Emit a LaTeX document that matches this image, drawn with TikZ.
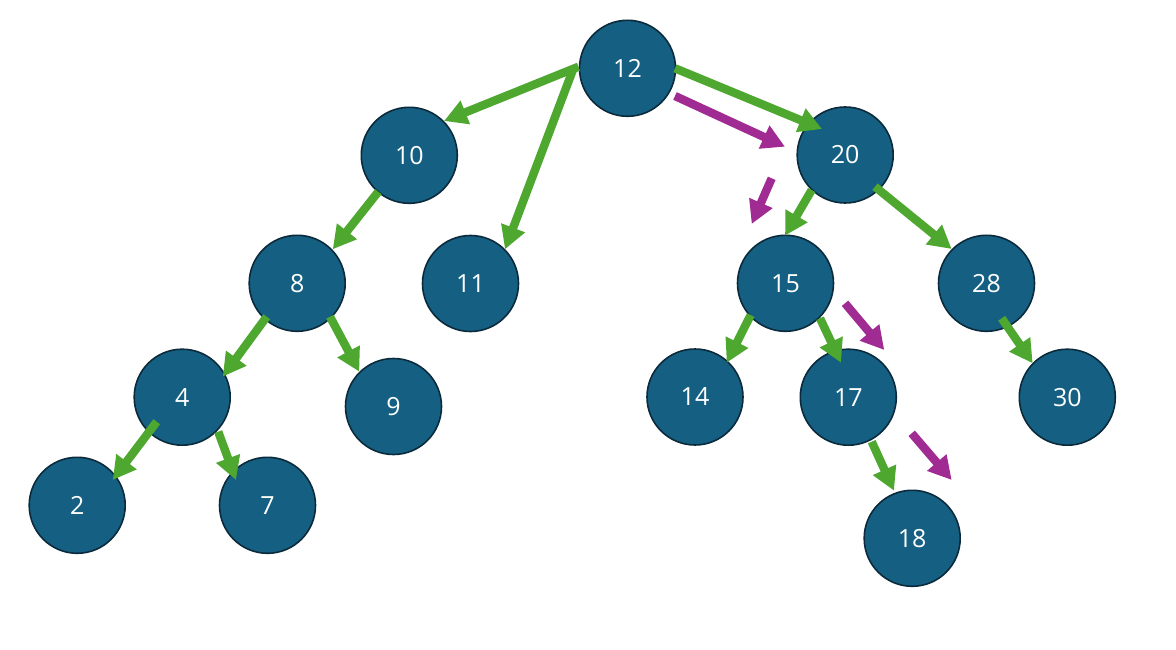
\documentclass[tikz,border=0pt]{standalone}
\usepackage{fontspec}
\setmainfont{Open Sans}
\usetikzlibrary{arrows.meta}
\definecolor{nodefill}{HTML}{156082}
\definecolor{nodeedge}{HTML}{0B2A3C}
\definecolor{edgegreen}{HTML}{4EA72E}
\definecolor{pathmag}{HTML}{A02B93}
\begin{document}
\begin{tikzpicture}[x=1pt,y=-1pt,
  bst/.style={circle,draw=nodeedge,line width=1.6pt,fill=nodefill,minimum size=96pt,inner sep=0pt,text=white,font=\fontsize{25}{30}\selectfont},
  treeedge/.style={draw=edgegreen,line width=8.4pt,-{Triangle[length=23pt,width=24pt]}},
  searchpath/.style={draw=pathmag,line width=8.4pt,-{Triangle[length=23pt,width=24pt]}}]
\useasboundingbox (0,0) rectangle (1176,650);
% nodes
\node[bst] (n12) at (627.5,68.3) {12};
\node[bst] (n10) at (409.3,155.3) {10};
\node[bst] (n20) at (845.2,155) {20};
\node[bst] (n8) at (297.2,283.3) {8};
\node[bst] (n11) at (470.5,283.5) {11};
\node[bst] (n15) at (785.5,283.3) {15};
\node[bst] (n28) at (986.5,283.3) {28};
\node[bst] (n4) at (182.2,397.2) {4};
\node[bst] (n9) at (393.5,406.5) {9};
\node[bst] (n14) at (695,397) {14};
\node[bst] (n17) at (848.3,397.2) {17};
\node[bst] (n30) at (1067.3,397.2) {30};
\node[bst] (n2) at (77.2,505.3) {2};
\node[bst] (n7) at (267.5,505.3) {7};
\node[bst] (n18) at (912.2,538.3) {18};
% tree edges
\draw[treeedge] ([shift={(-49,-1.6)}]n12.center) -- ([shift={(34.7,-34.3)}]n10.center);
\draw[treeedge] ([shift={(-54,0)}]n12.center) -- ([shift={(34.5,-34.2)}]n11.center);
\draw[treeedge] ([shift={(47.5,0)}]n12.center) -- ([shift={(-23.2,-26)}]n20.center);
\draw[treeedge] ([shift={(-31,36.4)}]n10.center) -- ([shift={(35.5,-34)}]n8.center);
\draw[treeedge] ([shift={(-30.5,33.4)}]n8.center) -- ([shift={(40.5,-20.5)}]n4.center);
\draw[treeedge] ([shift={(32.8,33.4)}]n8.center) -- ([shift={(-34.2,-34.8)}]n9.center);
\draw[treeedge] ([shift={(-25.5,24.5)}]n4.center) -- ([shift={(35.5,-25.3)}]n2.center);
\draw[treeedge] ([shift={(36,34.5)}]n4.center) -- ([shift={(-31.5,-25.3)}]n7.center);
\draw[treeedge] ([shift={(-33.5,35)}]n20.center) -- ([shift={(-0.5,-47.6)}]n15.center);
\draw[treeedge] ([shift={(29.8,31.7)}]n20.center) -- ([shift={(-34.8,-34.3)}]n28.center);
\draw[treeedge] ([shift={(-34.8,31.7)}]n15.center) -- ([shift={(31.7,-34.3)}]n14.center);
\draw[treeedge] ([shift={(34.5,35)}]n15.center) -- ([shift={(-7.3,-34.5)}]n17.center);
\draw[treeedge] ([shift={(15.2,35)}]n28.center) -- ([shift={(-34.6,-33.9)}]n30.center);
\draw[treeedge] ([shift={(23.4,44.5)}]n17.center) -- ([shift={(-18.2,-47.6)}]n18.center);
% search path
\coordinate (m1a) at (675,96);
\coordinate (m1b) at (785,146.7);
\coordinate (m2a) at (771.7,178.3);
\coordinate (m2b) at (751.7,224);
\coordinate (m3a) at (845,303.3);
\coordinate (m3b) at (884.3,350);
\coordinate (m4a) at (911.7,433.3);
\coordinate (m4b) at (951.7,480);
\draw[searchpath] (m1a) -- (m1b);
\draw[searchpath] (m2a) -- (m2b);
\draw[searchpath] (m3a) -- (m3b);
\draw[searchpath] (m4a) -- (m4b);
\end{tikzpicture}
\end{document}
